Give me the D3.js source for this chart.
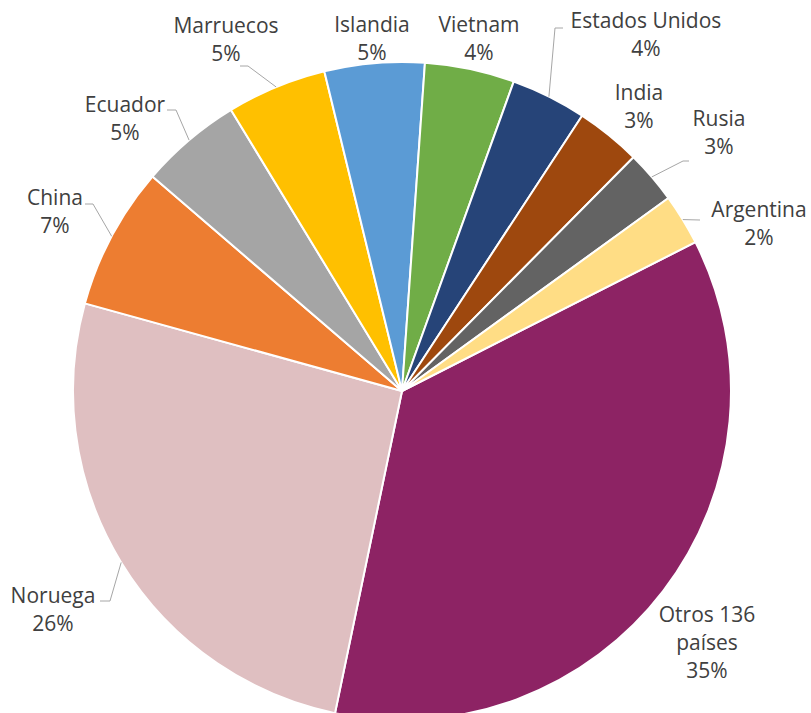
<!DOCTYPE html>
<html>
<head>
<meta charset="utf-8">
<script src="https://cdn.jsdelivr.net/npm/d3@7"></script>
<style>
  html, body { margin: 0; padding: 0; background: #ffffff; }
  svg { display: block; }
</style>
</head>
<body>
<svg id="chart" width="811" height="713"></svg>
<script>
// ---- Data (clockwise order, starting at the Otros slice) ----
const categories = ["Otros 136 países", "Noruega", "China", "Ecuador", "Marruecos", "Islandia",
                    "Vietnam", "Estados Unidos", "India", "Rusia", "Argentina"];
const values = [35.7, 26.0, 7.0, 5.0, 4.9, 4.9, 4.4, 3.7, 3.2, 2.6, 2.5];
const percentLabels = ["35%", "26%", "7%", "5%", "5%", "5%", "4%", "4%", "3%", "3%", "2%"];
const colors = ["#8d2364", "#dfbfc1", "#ed7d31", "#a5a5a5", "#ffc000", "#5b9bd5",
                "#70ad47", "#264478", "#9e480e", "#636363", "#ffdd85"];

// ---- Layout (label placement, leader line start points) ----
const W = 811, H = 713;
const cx = 402, cy = 391, R = 329;
const startDeg = 63.1;
const labelLayout = [
  { x: 707, y: 622, lines: ["Otros 136", "países"] },
  { x: 53,  y: 603 },
  { x: 55,  y: 205 },
  { x: 125, y: 112 },
  { x: 226, y: 33 },
  { x: 372, y: 32 },
  { x: 479, y: 32 },
  { x: 646, y: 28 },
  { x: 639, y: 100 },
  { x: 719, y: 126 },
  { x: 759, y: 217 }
];
const leaderStarts = [
  null,
  [[100, 601], [110, 601]],
  [[85, 204], [93, 204]],
  [[167, 110], [176, 110]],
  [[240, 66], [248, 66]],
  null,
  null,
  [[563, 28], [555, 28]],
  null,
  [[689, 161], [683, 161]],
  [[700, 220]]
];
const lineHeight = 28;

const svg = d3.select("#chart");
const g = svg.append("g").attr("transform", `translate(${cx},${cy})`);

const rad = Math.PI / 180;
const pie = d3.pie().sort(null).value(d => d)
  .startAngle(startDeg * rad).endAngle(startDeg * rad + 2 * Math.PI);
const arcs = pie(values);
const arc = d3.arc().innerRadius(0).outerRadius(R);

g.selectAll("path.slice")
  .data(arcs)
  .join("path")
  .attr("class", "slice")
  .attr("d", arc)
  .attr("fill", (d, i) => colors[i])
  .attr("stroke", "#ffffff")
  .attr("stroke-width", 2)
  .attr("stroke-linejoin", "round");

// Leader lines
const line = d3.line();
arcs.forEach((d, i) => {
  const st = leaderStarts[i];
  if (!st) return;
  const mid = (d.startAngle + d.endAngle) / 2;
  const edge = [cx + R * Math.sin(mid), cy - R * Math.cos(mid)];
  const pts = st.concat([edge]);
  svg.append("path")
    .attr("d", line(pts))
    .attr("fill", "none")
    .attr("stroke", "#a6a6a6")
    .attr("stroke-width", 1);
});

// Labels
const labels = svg.append("g")
  .attr("font-family", "'Open Sans', 'Noto Sans', sans-serif")
  .attr("font-size", 21)
  .attr("fill", "#404040")
  .attr("text-anchor", "middle");

categories.forEach((c, i) => {
  const L = labelLayout[i];
  const lines = (L.lines || [c]).concat([percentLabels[i]]);
  const t = labels.append("text").attr("x", L.x).attr("y", L.y);
  lines.forEach((s, k) => {
    t.append("tspan")
      .attr("x", L.x)
      .attr("y", L.y + k * lineHeight)
      .text(s);
  });
});
</script>
</body>
</html>
